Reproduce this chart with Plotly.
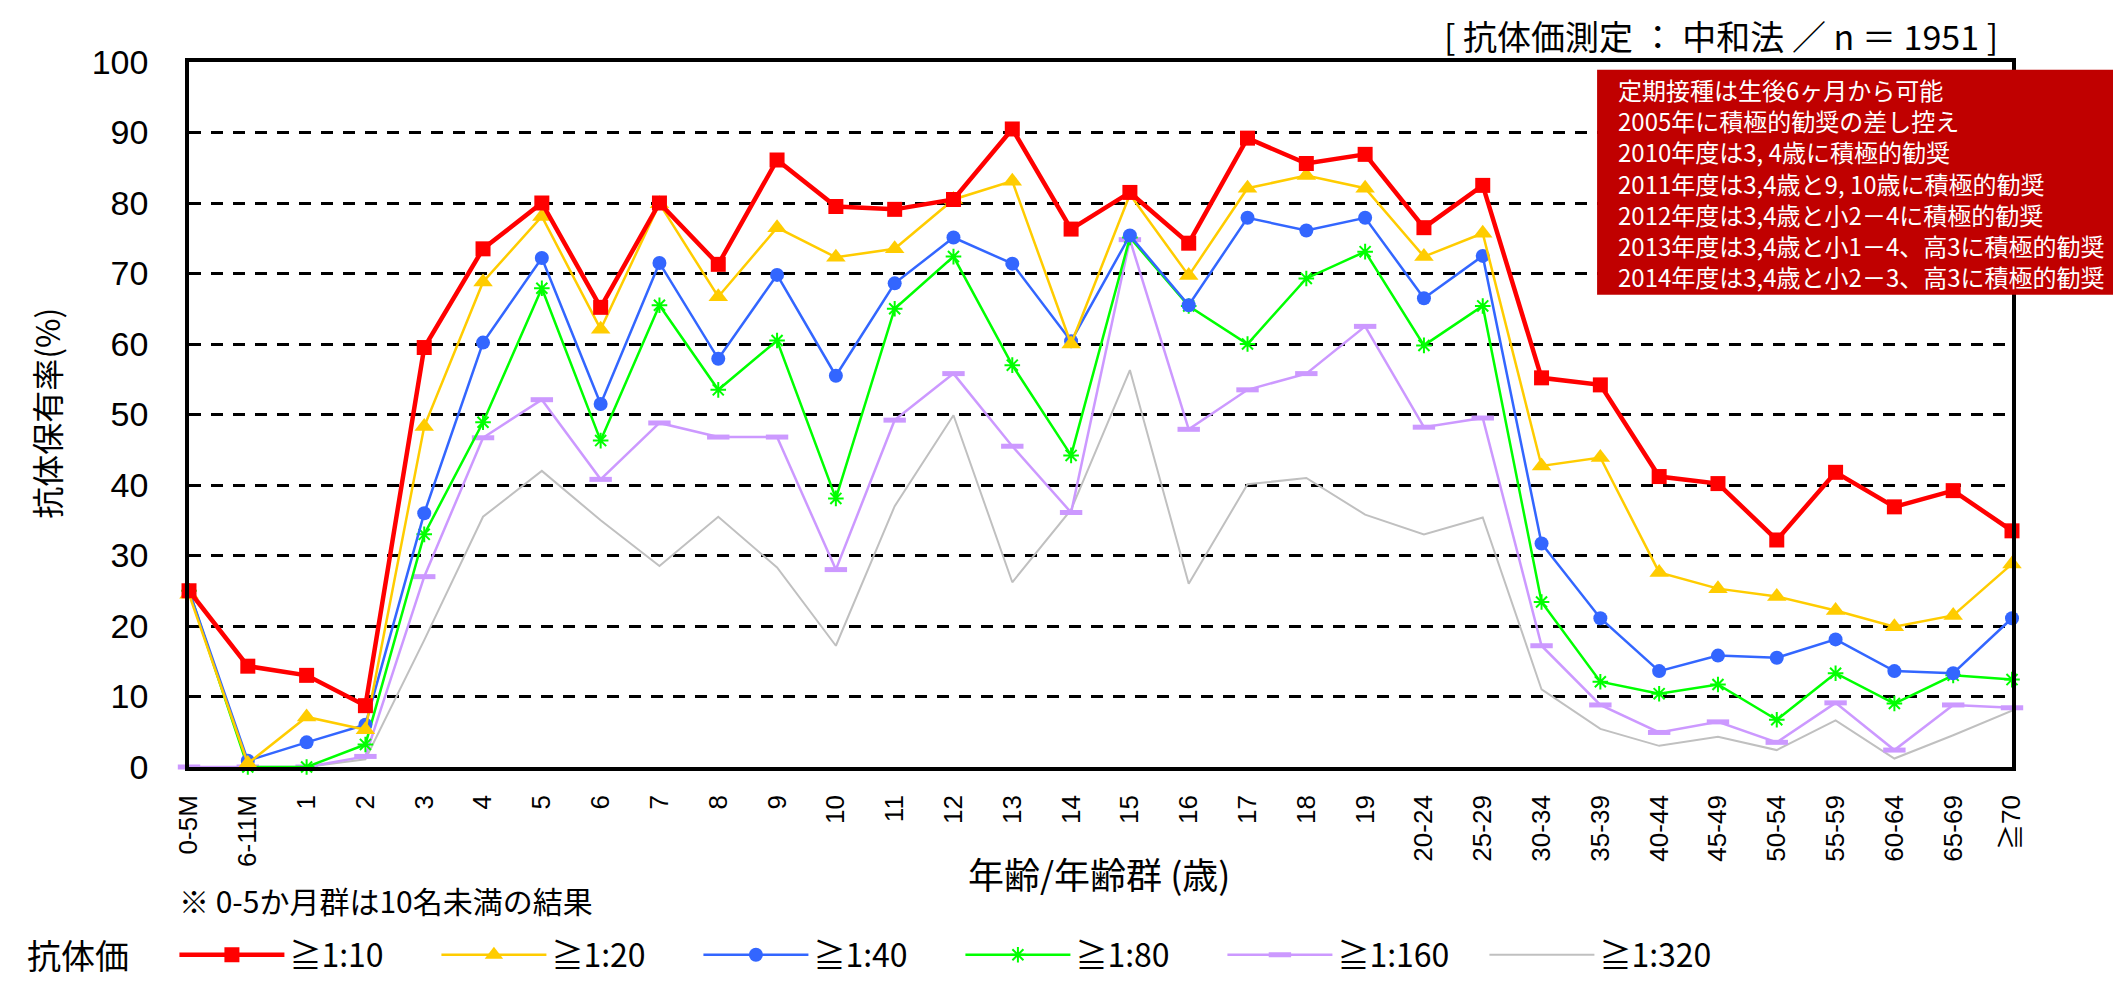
import plotly.graph_objects as go

# age groups on the x axis
ages = ['0-5M', '6-11M'] + [str(a) for a in range(1, 20)] + \
       ['20-24', '25-29', '30-34', '35-39', '40-44', '45-49',
        '50-54', '55-59', '60-64', '65-69', '≧70']

# antibody-positive rate (%) by titre threshold
r10 = [25, 14.3, 13, 8.7, 59.5, 73.5, 80, 65.2, 80, 71.3, 86.1, 79.5, 79.1,
       80.5, 90.5, 76.3, 81.5, 74.3, 89.2, 85.6, 86.9, 76.5, 82.5, 55.2,
       54.2, 41.2, 40.2, 32.2, 41.8, 36.9, 39.2, 33.5]
r20 = [24.5, 0.5, 7.1, 5.3, 48.3, 68.8, 78.1, 62.1, 79.9, 66.7, 76.5, 72.3,
       73.5, 80.5, 83.1, 60.0, 81.2, 69.7, 82.1, 83.9, 82.1, 72.4, 75.7,
       42.7, 43.9, 27.6, 25.3, 24.2, 22.2, 19.9, 21.5, 28.8]
r40 = [25, 0.9, 3.5, 6.0, 36, 60.2, 72.2, 51.5, 71.5, 57.9, 69.8, 55.5, 68.6,
       75.1, 71.4, 60.4, 75.4, 65.5, 77.9, 76.1, 77.9, 66.5, 72.5, 31.7,
       21.1, 13.6, 15.8, 15.5, 18.1, 13.6, 13.3, 21.1]
r80 = [25, 0, 0, 3.2, 33, 48.9, 67.9, 46.3, 65.5, 53.5, 60.5, 38.1, 65.0,
       72.4, 57.0, 44.2, 75.1, 65.4, 60.0, 69.3, 73.1, 59.8, 65.4, 23.4,
       12.1, 10.4, 11.7, 6.7, 13.3, 9.0, 13.0, 12.4]
r160 = [0, 0, 0, 1.5, 27, 46.7, 52.1, 40.8, 48.8, 46.8, 46.8, 28, 49.2, 55.8,
        45.5, 36.1, 74.8, 47.9, 53.5, 55.8, 62.5, 48.2, 49.5, 17.2, 8.8,
        4.9, 6.4, 3.5, 9.1, 2.4, 8.8, 8.4]
r320 = [0, 0, 0, 1.1, 18, 35.5, 42, 35, 28.5, 35.5, 28.3, 17.2, 37, 49.9,
        26.2, 36.5, 56.3, 26, 40.1, 41, 35.8, 33, 35.4, 11, 5.4, 3, 4.3,
        2.4, 6.6, 1.2, 4.5, 8]

notes = ['定期接種は生後6ヶ月から可能',
         '2005年に積極的勧奨の差し控え',
         '2010年度は3, 4歳に積極的勧奨',
         '2011年度は3,4歳と9, 10歳に積極的勧奨',
         '2012年度は3,4歳と小2－4に積極的勧奨',
         '2013年度は3,4歳と小1－4、高3に積極的勧奨',
         '2014年度は3,4歳と小2－3、高3に積極的勧奨']

JP = 'Noto Sans CJK JP'
NUM = 'Liberation Sans, Noto Sans CJK JP'

fig = go.Figure()

# drawn bottom-up so the red series ends on top
series = [
    ('≧1:320', r320, '#C0C0C0', 2, None),
    ('≧1:160', r160, '#CC99FF', 2.5, dict(symbol='line-ew-open', size=16,
                                          line=dict(width=5, color='#CC99FF'))),
    ('≧1:80', r80, '#00FF00', 2.5, dict(symbol='asterisk-open', size=13,
                                        line=dict(width=2, color='#00FF00'))),
    ('≧1:40', r40, '#3366FF', 2.5, dict(symbol='circle', size=14, color='#3366FF')),
    ('≧1:20', r20, '#FFCC00', 2.5, dict(symbol='triangle-up', size=17, color='#FFCC00')),
    ('≧1:10', r10, '#FF0000', 4.5, dict(symbol='square', size=15, color='#FF0000')),
]
for name, vals, col, lw, mk in series:
    fig.add_trace(go.Scatter(
        x=ages, y=vals, name=name,
        mode='lines+markers' if mk else 'lines',
        line=dict(color=col, width=lw),
        marker=mk,
        cliponaxis=False,
    ))

fig.update_layout(
    width=2121, height=986,
    margin=dict(l=181, r=117, t=54, b=208),
    paper_bgcolor='white', plot_bgcolor='white',
    font=dict(family=JP, color='black'),
    showlegend=True,
    legend=dict(
        orientation='h', traceorder='reversed',
        x=-0.008, xanchor='left', y=-0.2666, yanchor='middle',
        font=dict(family=JP, size=32, color='black'),
        itemwidth=105, itemclick=False,
        entrywidth=142, entrywidthmode='pixels',
    ),
)

fig.update_xaxes(
    type='category', range=[0, 31],
    tickangle=-90, tickfont=dict(family=NUM, size=26, color='black'),
    showline=True, linecolor='black', linewidth=3.5, mirror=True,
    showgrid=False, zeroline=False, ticks='', ticklabelstandoff=14,
)
fig.update_yaxes(
    range=[0, 100], dtick=10,
    tickfont=dict(family=NUM, size=34, color='black'),
    showline=True, linecolor='black', linewidth=3.5, mirror=True,
    showgrid=True, gridcolor='black', gridwidth=3, griddash='12px,10px',
    zeroline=False, ticks='inside', ticklen=9, tickwidth=3, tickcolor='black',
    ticklabelstandoff=30,
)

# red notice box in the top-right corner
fig.add_shape(type='rect', xref='paper', yref='paper',
              x0=0.7724, x1=1.0642, y0=0.670, y1=0.989,
              fillcolor='#C00000', line=dict(width=0), layer='above')
fig.add_annotation(text='<br>'.join(notes), xref='paper', yref='paper',
                   x=0.7828, y=0.829, xanchor='left', yanchor='middle',
                   align='left', showarrow=False,
                   font=dict(family=JP, size=24, color='white'))

fig.add_annotation(text='[ 抗体価測定 ： 中和法 ／ n ＝ 1951 ]',
                   xref='paper', yref='paper', x=0.9935, y=1.0373,
                   xanchor='right', yanchor='middle', showarrow=False,
                   font=dict(family=JP, size=34, color='black'))
fig.add_annotation(text='抗体保有率(%)', textangle=-90,
                   xref='paper', yref='paper', x=-0.0784, y=0.501,
                   xanchor='center', yanchor='middle', showarrow=False,
                   font=dict(family=JP, size=32, color='black'))
fig.add_annotation(text='年齢/年齢群 (歳)', xref='paper', yref='paper',
                   x=0.4997, y=-0.1506, xanchor='center', yanchor='middle',
                   showarrow=False, font=dict(family=JP, size=36, color='black'))
fig.add_annotation(text='※ 0-5か月群は10名未満の結果', xref='paper', yref='paper',
                   x=-0.0066, y=-0.189, xanchor='left', yanchor='middle',
                   showarrow=False, font=dict(family=JP, size=30, color='black'))
fig.add_annotation(text='抗体価', xref='paper', yref='paper',
                   x=-0.09, y=-0.2666, xanchor='left', yanchor='middle',
                   showarrow=False, font=dict(family=JP, size=34, color='black'))

fig.write_html('out.html')
